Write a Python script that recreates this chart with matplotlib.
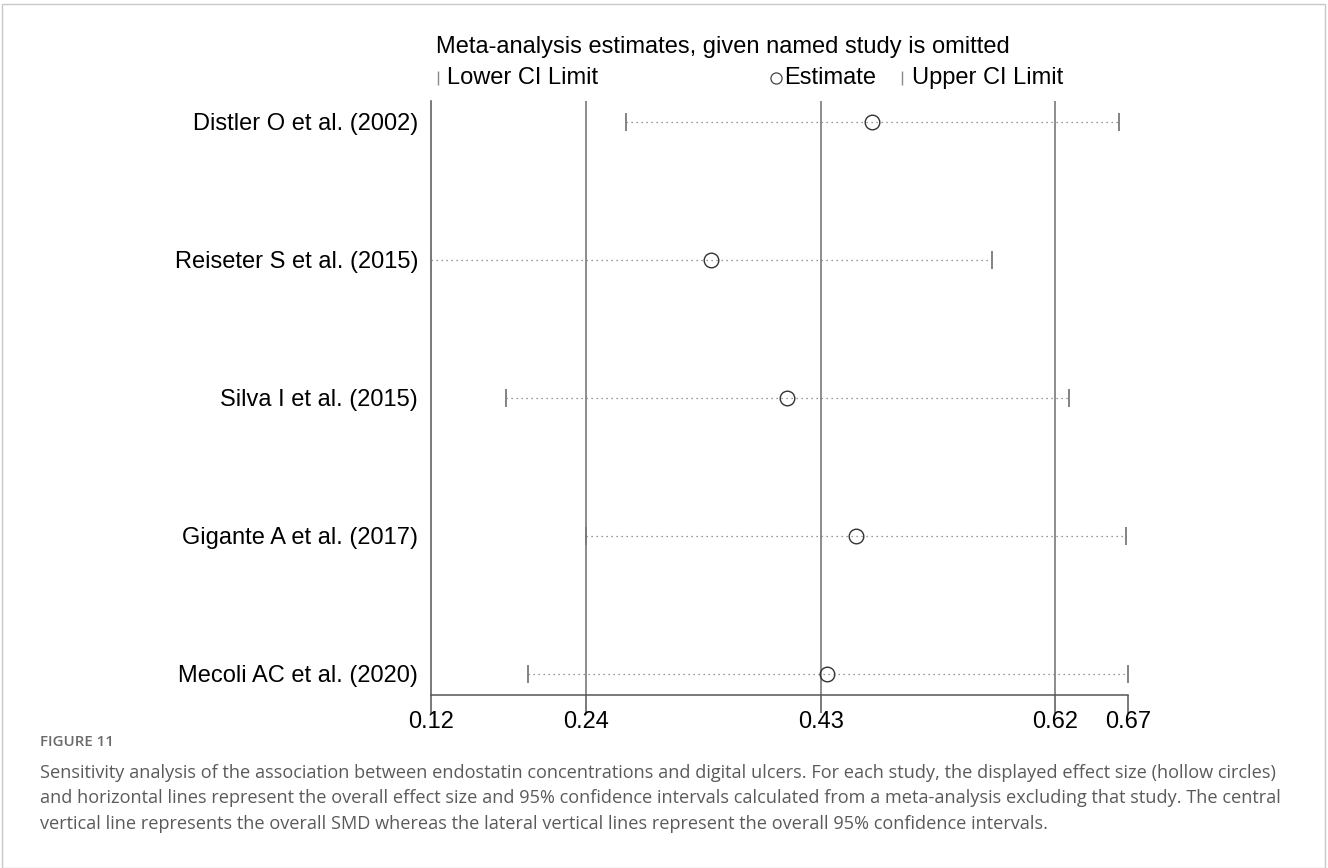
import matplotlib
matplotlib.use("Agg")
import matplotlib.pyplot as plt
from matplotlib.lines import Line2D
from matplotlib.patches import Rectangle

studies = ["Distler O et al. (2002)", "Reiseter S et al. (2015)", "Silva I et al. (2015)",
           "Gigante A et al. (2017)", "Mecoli AC et al. (2020)"]
est = [0.469, 0.340, 0.401, 0.456, 0.433]
lower = [0.272, 0.1155, 0.176, 0.240, 0.1935]
upper = [0.667, 0.565, 0.627, 0.673, 0.6745]

overall_lo, overall_est, overall_hi = 0.240, 0.428, 0.616
x_min, x_max = 0.1155, 0.6745

caption = ("Sensitivity analysis of the association between endostatin concentrations and digital ulcers. For each study, the displayed effect size (hollow circles)\n"
           "and horizontal lines represent the overall effect size and 95% confidence intervals calculated from a meta-analysis excluding that study. The central\n"
           "vertical line represents the overall SMD whereas the lateral vertical lines represent the overall 95% confidence intervals.")

W, H = 1328, 868
fig = plt.figure(figsize=(W / 100, H / 100), dpi=100)
font = ["Liberation Sans", "DejaVu Sans"]
cap_font = ["Open Sans", "DejaVu Sans"]

def fx(px):
    return px / W

def fy(py):
    return 1 - py / H

ax = fig.add_axes([fx(430.7), fy(694.7), fx(1128.3) - fx(430.7), fy(101) - fy(694.7)])

n = len(studies)
ypos = list(range(n, 0, -1))

for v in (overall_lo, overall_est, overall_hi):
    ax.axvline(v, color="#6e6e6e", lw=1.1, zorder=1)

for y, lo, e, hi in zip(ypos, lower, est, upper):
    ax.plot([lo, hi], [y, y], color="#777777", lw=0.9, ls=(0, (1, 3.0)), zorder=2)
    ax.plot([lo, hi], [y, y], ls="none", marker="|", ms=13, mew=1.3, color="#7a7a7a", zorder=3)
    ax.plot([e], [y], ls="none", marker="o", ms=10.5, mfc="none", mec="#333333", mew=1.0, zorder=4)

ax.set_xlim(x_min, x_max)
ax.set_ylim(0.85, n + 0.15)
ax.set_yticks(ypos)
ax.set_yticklabels(studies, fontsize=17, family=font)
ax.tick_params(axis="y", length=0, pad=9)
ticks = [x_min, overall_lo, overall_est, overall_hi, x_max]
ax.set_xticks(ticks)
ax.set_xticklabels([f"{t:.2f}" for t in ticks], fontsize=17, family=font)
ax.tick_params(axis="x", length=13, width=1.1, color="#555555", pad=-1)
for s in ("top", "right"):
    ax.spines[s].set_visible(False)
for s in ("left", "bottom"):
    ax.spines[s].set_color("#555555")
    ax.spines[s].set_linewidth(1.1)

# title and legend row
fig.text(fx(436), fy(47), "Meta-analysis estimates, given named study is omitted",
         fontsize=17, family=font, va="center", ha="left")
legend_y = fy(78)
fig.add_artist(Line2D([fx(438)], [legend_y], marker="|", ms=10, mew=1.0, color="#888888", ls="none"))
fig.text(fx(447), legend_y, "Lower CI Limit", fontsize=17, family=font, va="center")
fig.add_artist(Line2D([fx(776)], [legend_y], marker="o", ms=8, mfc="none", mec="#444444", mew=0.9, ls="none"))
fig.text(fx(784), legend_y, "Estimate", fontsize=17, family=font, va="center")
fig.add_artist(Line2D([fx(902)], [legend_y], marker="|", ms=10, mew=1.0, color="#888888", ls="none"))
fig.text(fx(912), legend_y, "Upper CI Limit", fontsize=17, family=font, va="center")

# caption
fig.text(fx(40), fy(742), "FIGURE 11", fontsize=10.8, color="#6a6a6a", family=cap_font,
         weight="semibold", va="center", ha="left")
fig.text(fx(40), fy(764), caption, fontsize=13.1, color="#5a5a5a", family=cap_font,
         va="top", ha="left", linespacing=1.52)

# frame around the whole panel
fig.add_artist(Rectangle((fx(2), 0), fx(1325) - fx(2), fy(4), transform=fig.transFigure,
                         fill=False, ec="#c8c8c8", lw=1.0))

fig.savefig("out.png", dpi=100)
